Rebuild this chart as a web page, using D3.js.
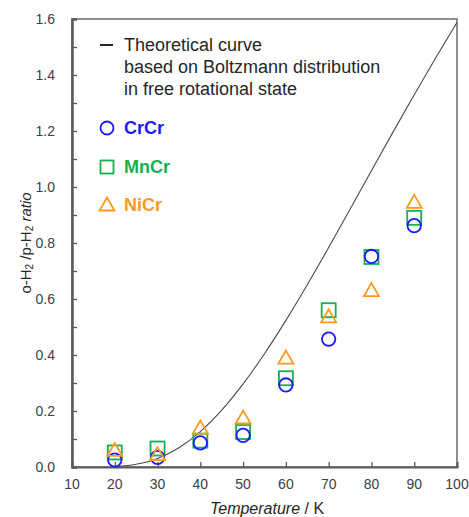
<!DOCTYPE html>
<html>
<head>
<meta charset="utf-8">
<script src="https://cdn.jsdelivr.net/npm/d3@7"></script>
<style>
  html, body { margin: 0; padding: 0; background: #fff; }
  svg { display: block; font-family: "Liberation Sans", Arial, sans-serif; }
</style>
</head>
<body>
<svg id="chart" width="469" height="517"></svg>
<script>
// ---- data ----
const temperatures = [20, 30, 40, 50, 60, 70, 80, 90];
const crcr = [0.025, 0.034, 0.086, 0.113, 0.293, 0.457, 0.752, 0.862];
const mncr = [0.052, 0.066, 0.094, 0.125, 0.317, 0.560, 0.750, 0.890];
const nicr = [0.058, 0.043, 0.138, 0.174, 0.388, 0.535, 0.629, 0.944];
const curveT = [20, 25, 30, 35, 40, 45, 50, 55, 60, 65, 70, 75, 80, 85, 90, 95, 100];
const curveRatio = [0.0018, 0.0098, 0.0305, 0.0688, 0.1265, 0.2031, 0.2966, 0.4045, 0.5237, 0.651, 0.7842, 0.9206, 1.058, 1.1951, 1.3298, 1.461, 1.5878];
const xTicks = [10, 20, 30, 40, 50, 60, 70, 80, 90, 100];
const yTicks = [0, 0.2, 0.4, 0.6, 0.8, 1.0, 1.2, 1.4, 1.6];
const yMinorTicks = [0.1, 0.3, 0.5, 0.7, 0.9, 1.1, 1.3, 1.5];
const seriesNames = ["CrCr", "MnCr", "NiCr"];
const seriesColors = ["#1a1aff", "#16b050", "#ff9a1f"];

// ---- layout ----
const svg = d3.select("#chart");
const L = 72, R = 457, T = 19, B = 467;
const x = d3.scaleLinear().domain([10, 100]).range([L, R]);
const y = d3.scaleLinear().domain([0, 1.6]).range([B, T]);
const axisColor = "#5a5a5a";
const textColor = "#404040";

// frame
svg.append("rect").attr("x", L).attr("y", T).attr("width", R - L).attr("height", B - T)
  .attr("fill", "none").attr("stroke", "#6a6a6a").attr("stroke-width", 1.5);

// y axis (ticks inside)
const yAxis = d3.axisRight(y).tickValues(yTicks).tickSize(5).tickFormat("");
const gy = svg.append("g").attr("transform", `translate(${L},0)`).call(yAxis);
const yAxisMinor = d3.axisRight(y).tickValues(yMinorTicks).tickSize(5).tickFormat("");
const gy2 = svg.append("g").attr("transform", `translate(${L},0)`).call(yAxisMinor);
[gy, gy2].forEach(g => {
  g.select(".domain").attr("stroke", axisColor).attr("stroke-width", 2);
  g.selectAll(".tick line").attr("stroke", axisColor).attr("stroke-width", 1.3);
});
// y tick labels
svg.append("g").selectAll("text").data(yTicks).join("text")
  .attr("x", 55).attr("y", d => y(d)).attr("dy", "0.35em")
  .attr("text-anchor", "end").attr("font-size", 14).attr("fill", textColor)
  .text(d => d.toFixed(1));

// x axis (ticks inside)
const xAxis = d3.axisTop(x).tickValues(xTicks).tickSize(5).tickFormat("");
const gx = svg.append("g").attr("transform", `translate(0,${B})`).call(xAxis);
gx.select(".domain").attr("stroke", axisColor).attr("stroke-width", 2);
gx.selectAll(".tick line").attr("stroke", axisColor).attr("stroke-width", 1.3);
svg.append("g").selectAll("text").data(xTicks).join("text")
  .attr("x", d => x(d)).attr("y", 489)
  .attr("text-anchor", "middle").attr("font-size", 14).attr("fill", textColor)
  .text(d => d);

// axis titles
const xt = svg.append("text").attr("x", 267).attr("y", 514)
  .attr("text-anchor", "middle").attr("font-size", 16).attr("fill", "#262626");
xt.append("tspan").attr("font-style", "italic").text("Temperature");
xt.append("tspan").text(" / K");

const yt = svg.append("text").attr("transform", `translate(31,${(T + B) / 2}) rotate(-90)`)
  .attr("text-anchor", "middle").attr("font-size", 15).attr("fill", "#262626");
yt.append("tspan").text("o-H");
yt.append("tspan").attr("font-size", 10).attr("dy", 2).text("2");
yt.append("tspan").attr("dy", -2).text(" /p-H");
yt.append("tspan").attr("font-size", 10).attr("dy", 2).text("2");
yt.append("tspan").attr("dy", -2).attr("font-style", "italic").text(" ratio");

// theoretical curve
const line = d3.line().x((d, i) => x(curveT[i])).y(d => y(d)).curve(d3.curveMonotoneX);
svg.append("path").attr("d", line(curveRatio))
  .attr("fill", "none").attr("stroke", "#4a4a4a").attr("stroke-width", 1.1);

// markers
const sw = 1.8;
const size = 7;
function drawMarker(g, kind, cx, cy, color) {
  if (kind === 0) {
    g.append("circle").attr("cx", cx).attr("cy", cy).attr("r", size - 0.3)
      .attr("fill", "none").attr("stroke", color).attr("stroke-width", sw);
  } else if (kind === 1) {
    g.append("rect").attr("x", cx - size).attr("y", cy - size).attr("width", 2 * size).attr("height", 2 * size)
      .attr("fill", "none").attr("stroke", color).attr("stroke-width", sw);
  } else {
    const h = 13, w = 15;
    g.append("path").attr("d", `M${cx},${cy - h * 0.6}L${cx + w / 2},${cy + h * 0.4}L${cx - w / 2},${cy + h * 0.4}Z`)
      .attr("fill", "none").attr("stroke", color).attr("stroke-width", sw).attr("stroke-linejoin", "miter");
  }
}
const allSeries = [crcr, mncr, nicr];
const drawOrder = [1, 0, 2]; // squares, circles, triangles on top
const markers = svg.append("g");
drawOrder.forEach(s => {
  allSeries[s].forEach((v, i) => drawMarker(markers, s, x(temperatures[i]), y(v), seriesColors[s]));
});

// legend
const lg = svg.append("g");
lg.append("line").attr("x1", 100).attr("x2", 113).attr("y1", 45).attr("y2", 45)
  .attr("stroke", "#262626").attr("stroke-width", 2);
const legendLines = ["Theoretical curve", "based on Boltzmann distribution", "in free rotational state"];
lg.selectAll("text.th").data(legendLines).join("text").attr("class", "th")
  .attr("x", 124).attr("y", (d, i) => 45 + i * 22).attr("dy", "0.35em")
  .attr("font-size", 18).attr("fill", "#262626").text(d => d);
const legendY = [128, 167, 205];
seriesNames.forEach((name, s) => {
  if (s === 0) {
    lg.append("circle").attr("cx", 107).attr("cy", legendY[s]).attr("r", 6.5)
      .attr("fill", "none").attr("stroke", seriesColors[s]).attr("stroke-width", 1.8);
  } else if (s === 1) {
    lg.append("rect").attr("x", 100.5).attr("y", legendY[s] - 6.5).attr("width", 13).attr("height", 13)
      .attr("fill", "none").attr("stroke", seriesColors[s]).attr("stroke-width", 1.8);
  } else {
    const cy = legendY[s];
    lg.append("path").attr("d", `M107,${cy - 7.5}L114.5,${cy + 5.5}L99.5,${cy + 5.5}Z`)
      .attr("fill", "none").attr("stroke", seriesColors[s]).attr("stroke-width", 1.8);
  }
  lg.append("text").attr("x", 124).attr("y", legendY[s]).attr("dy", "0.35em")
    .attr("font-size", 18).attr("font-weight", "bold").attr("fill", seriesColors[s]).text(name);
});
</script>
</body>
</html>
